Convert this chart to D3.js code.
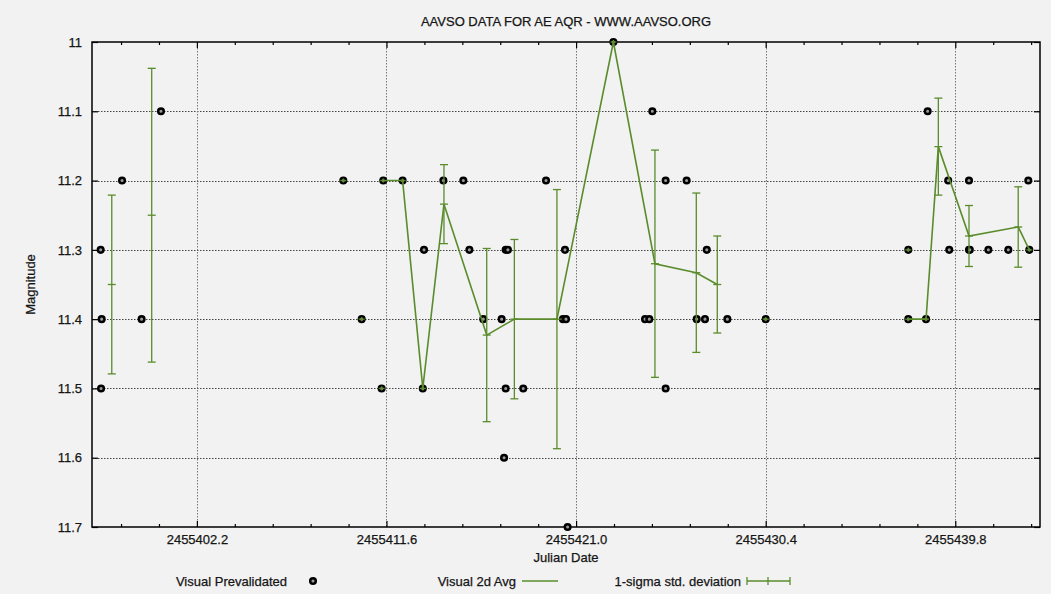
<!DOCTYPE html>
<html>
<head>
<meta charset="utf-8">
<script src="https://cdn.jsdelivr.net/npm/d3@7"></script>
<style>
  html, body { margin: 0; padding: 0; background: #f2f2f2; }
  svg { display: block; }
  text { font-family: "Liberation Sans", Arial, sans-serif; fill: #151515; stroke: #151515; stroke-width: 0.25px; }
</style>
</head>
<body>
<svg id="chart" width="1051" height="594"></svg>
<script>
// ---- Data ----
const titleText = "AAVSO DATA FOR AE AQR - WWW.AAVSO.ORG";
const xLabel = "Julian Date";
const yLabel = "Magnitude";

// Visual prevalidated observations
const obsJD = [
  2455397.43, 2455397.48, 2455397.45, 2455398.49, 2455399.46, 2455400.42,
  2455409.46, 2455410.37, 2455411.36, 2455411.44, 2455412.40, 2455413.40, 2455413.46,
  2455414.42, 2455415.41, 2455415.71, 2455416.40, 2455417.31, 2455417.51, 2455417.62,
  2455417.51, 2455418.38, 2455417.43, 2455419.51, 2455420.45, 2455420.35, 2455420.50,
  2455420.58, 2455422.85, 2455424.78, 2455424.42, 2455424.63, 2455425.44, 2455425.44,
  2455426.48, 2455426.98, 2455427.39, 2455427.48, 2455428.50, 2455430.40,
  2455437.47, 2455437.47, 2455438.35, 2455438.43, 2455439.45, 2455439.50, 2455440.48,
  2455440.48, 2455440.52, 2455441.44, 2455442.43, 2455443.47, 2455443.42
];
const obsMag = [
  11.3, 11.4, 11.5, 11.2, 11.4, 11.1,
  11.2, 11.4, 11.5, 11.2, 11.2, 11.5, 11.3,
  11.2, 11.2, 11.3, 11.4, 11.4, 11.3, 11.3,
  11.5, 11.5, 11.6, 11.2, 11.3, 11.4, 11.4,
  11.7, 11.0, 11.1, 11.4, 11.4, 11.2, 11.5,
  11.2, 11.4, 11.4, 11.3, 11.4, 11.4,
  11.3, 11.4, 11.4, 11.1, 11.2, 11.3, 11.2,
  11.3, 11.3, 11.3, 11.3, 11.3, 11.2
];

// Visual 2-day averages, 1-sigma std deviation, and line segment id (lines join equal ids)
const avgJD = [
  2455397.98, 2455399.96,
  2455409.46, 2455410.37, 2455411.36,
  2455411.44, 2455412.40, 2455413.40, 2455414.45, 2455416.57, 2455417.94, 2455420.05,
  2455422.85, 2455424.91, 2455426.96, 2455428.00,
  2455430.40, 2455437.47,
  2455437.47, 2455438.35, 2455438.96, 2455440.48, 2455442.92, 2455443.47
];
const avgMag = [
  11.35, 11.25,
  11.2, 11.4, 11.5,
  11.2, 11.2, 11.5, 11.234, 11.423, 11.4, 11.4,
  11.0, 11.32, 11.333, 11.35,
  11.4, 11.3,
  11.4, 11.4, 11.151, 11.28, 11.267, 11.3
];
const avgStd = [
  0.129, 0.212,
  0, 0, 0,
  0, 0, 0, 0.057, 0.125, 0.115, 0.187,
  0, 0.164, 0.115, 0.07,
  0, 0,
  0, 0, 0.07, 0.044, 0.058, 0
];
const avgSeg = [
  1, 2,
  3, 4, 5,
  6, 6, 6, 6, 6, 6, 6,
  6, 6, 6, 6,
  7, 8,
  9, 9, 9, 9, 9, 9
];

const xDomain = [2455397.0, 2455444.0];
const yDomain = [11.0, 11.7];
const xMajorTicks = [2455402.2, 2455411.6, 2455421.0, 2455430.4, 2455439.8];
const xTickLabels = ["2455402.2", "2455411.6", "2455421.0", "2455430.4", "2455439.8"];
const xMinorStep = 1.88;
const yTicks = [11.0, 11.1, 11.2, 11.3, 11.4, 11.5, 11.6, 11.7];
const yTickLabels = ["11", "11.1", "11.2", "11.3", "11.4", "11.5", "11.6", "11.7"];
const legendLabels = ["Visual Prevalidated", "Visual 2d Avg", "1-sigma std. deviation"];

// ---- Layout ----
const green = "#5a8c2c";
const margin = { left: 92, right: 1040, top: 42, bottom: 527 };
const svg = d3.select("#chart");
svg.append("rect").attr("width", 1051).attr("height", 594).attr("fill", "#f2f2f2");

const x = d3.scaleLinear().domain(xDomain).range([margin.left, margin.right]);
const y = d3.scaleLinear().domain(yDomain).range([margin.top, margin.bottom]);

// Grid
const grid = svg.append("g").attr("stroke", "#444").attr("stroke-width", 1)
  .attr("stroke-dasharray", "1.5,1.5").attr("fill", "none");
yTicks.slice(1, -1).forEach(v => {
  grid.append("line").attr("x1", margin.left).attr("x2", margin.right)
    .attr("y1", Math.round(y(v)) + 0.5).attr("y2", Math.round(y(v)) + 0.5);
});
xMajorTicks.forEach(v => {
  grid.append("line").attr("y1", margin.top).attr("y2", margin.bottom)
    .attr("x1", Math.round(x(v)) + 0.5).attr("x2", Math.round(x(v)) + 0.5)
    .attr("stroke", "#777");
});

// Axes via d3 axis generators (ticks drawn inward)
const minorTicks = d3.range(-10, 30).map(k => xMajorTicks[0] + k * xMinorStep)
  .filter(v => v > xDomain[0] && v < xDomain[1] && !xMajorTicks.some(m => Math.abs(m - v) < 1e-6));

function styleAxis(g) {
  g.select(".domain").remove();
  g.selectAll("line").attr("stroke", "#000").attr("stroke-width", 1.2);
}
const axisFont = '13px "Liberation Sans", Arial, sans-serif';

const xBottom = svg.append("g").attr("transform", `translate(0,${margin.bottom})`)
  .call(d3.axisBottom(x).tickValues(xMajorTicks).tickFormat((d, i) => xTickLabels[i])
    .tickSizeInner(-6).tickSizeOuter(0).tickPadding(8));
styleAxis(xBottom);
xBottom.selectAll("text").style("font", axisFont).attr("fill", "#151515");

svg.append("g").attr("transform", `translate(0,${margin.bottom})`)
  .call(d3.axisBottom(x).tickValues(minorTicks).tickFormat("").tickSizeInner(-3).tickSizeOuter(0))
  .call(styleAxis);
svg.append("g").attr("transform", `translate(0,${margin.top})`)
  .call(d3.axisTop(x).tickValues(xMajorTicks).tickFormat("").tickSizeInner(-6).tickSizeOuter(0))
  .call(styleAxis);
svg.append("g").attr("transform", `translate(0,${margin.top})`)
  .call(d3.axisTop(x).tickValues(minorTicks).tickFormat("").tickSizeInner(-3).tickSizeOuter(0))
  .call(styleAxis);

const yLeft = svg.append("g").attr("transform", `translate(${margin.left},0)`)
  .call(d3.axisLeft(y).tickValues(yTicks).tickFormat((d, i) => yTickLabels[i])
    .tickSizeInner(-6).tickSizeOuter(0).tickPadding(10));
styleAxis(yLeft);
yLeft.selectAll("text").style("font", axisFont).attr("fill", "#151515");
svg.append("g").attr("transform", `translate(${margin.right},0)`)
  .call(d3.axisRight(y).tickValues(yTicks).tickFormat("").tickSizeInner(-6).tickSizeOuter(0))
  .call(styleAxis);

// Frame
svg.append("rect").attr("x", margin.left).attr("y", margin.top)
  .attr("width", margin.right - margin.left).attr("height", margin.bottom - margin.top)
  .attr("fill", "none").attr("stroke", "#000").attr("stroke-width", 1.5);

// Observations
const obs = obsJD.map((d, i) => ({ jd: d, mag: obsMag[i] }));
svg.append("g").selectAll("circle").data(obs).join("circle")
  .attr("cx", d => x(d.jd)).attr("cy", d => y(d.mag)).attr("r", 2.8)
  .attr("fill", "#9a9a9a").attr("stroke", "#000").attr("stroke-width", 2.5);

// Average line
const avg = avgJD.map((d, i) => ({ jd: d, mag: avgMag[i], sd: avgStd[i], seg: avgSeg[i] }));
const segs = d3.groups(avg, d => d.seg);
const line = d3.line().x(d => x(d.jd)).y(d => y(d.mag));
svg.append("g").selectAll("path").data(segs.filter(s => s[1].length > 1)).join("path")
  .attr("d", s => line(s[1])).attr("fill", "none").attr("stroke", green).attr("stroke-width", 1.6);

// Error bars
const eb = svg.append("g").attr("stroke", green).attr("stroke-width", 1.3).attr("fill", "none");
const cap = 4;
avg.forEach(d => {
  const cx = x(d.jd);
  const y1 = y(d.mag - d.sd), y2 = y(d.mag + d.sd), yc = y(d.mag);
  if (d.sd > 0) {
    eb.append("line").attr("x1", cx).attr("x2", cx).attr("y1", y1).attr("y2", y2);
    eb.append("line").attr("x1", cx - cap).attr("x2", cx + cap).attr("y1", y1).attr("y2", y1);
    eb.append("line").attr("x1", cx - cap).attr("x2", cx + cap).attr("y1", y2).attr("y2", y2);
    eb.append("line").attr("x1", cx - cap).attr("x2", cx + cap).attr("y1", yc).attr("y2", yc);
  } else {
    eb.append("line").attr("x1", cx - 3).attr("x2", cx + 3).attr("y1", yc).attr("y2", yc);
    eb.append("line").attr("x1", cx).attr("x2", cx).attr("y1", yc - 2).attr("y2", yc + 2);
  }
});

// Titles
svg.append("text").attr("x", (margin.left + margin.right) / 2).attr("y", 26)
  .attr("text-anchor", "middle").style("font-size", "13px").text(titleText);
svg.append("text").attr("x", (margin.left + margin.right) / 2).attr("y", 562)
  .attr("text-anchor", "middle").style("font-size", "13px").text(xLabel);
svg.append("text").attr("transform", `translate(35,${(margin.top + margin.bottom) / 2}) rotate(-90)`)
  .attr("text-anchor", "middle").style("font-size", "13px").text(yLabel);

// Legend
const ly = 581;
svg.append("text").attr("x", 287).attr("y", ly + 4.5).attr("text-anchor", "end")
  .style("font-size", "13px").text(legendLabels[0]);
svg.append("circle").attr("cx", 313).attr("cy", ly).attr("r", 2.8)
  .attr("fill", "#9a9a9a").attr("stroke", "#000").attr("stroke-width", 2.5);
svg.append("text").attr("x", 516).attr("y", ly + 4.5).attr("text-anchor", "end")
  .style("font-size", "13px").text(legendLabels[1]);
svg.append("line").attr("x1", 522).attr("x2", 558).attr("y1", ly).attr("y2", ly)
  .attr("stroke", green).attr("stroke-width", 1.6);
svg.append("text").attr("x", 741).attr("y", ly + 4.5).attr("text-anchor", "end")
  .style("font-size", "13px").text(legendLabels[2]);
const lg = svg.append("g").attr("stroke", green).attr("stroke-width", 1.3);
lg.append("line").attr("x1", 747).attr("x2", 790).attr("y1", ly).attr("y2", ly);
[747, 768, 790].forEach(cx => lg.append("line").attr("x1", cx).attr("x2", cx).attr("y1", ly - 4).attr("y2", ly + 4));
</script>
</body>
</html>
